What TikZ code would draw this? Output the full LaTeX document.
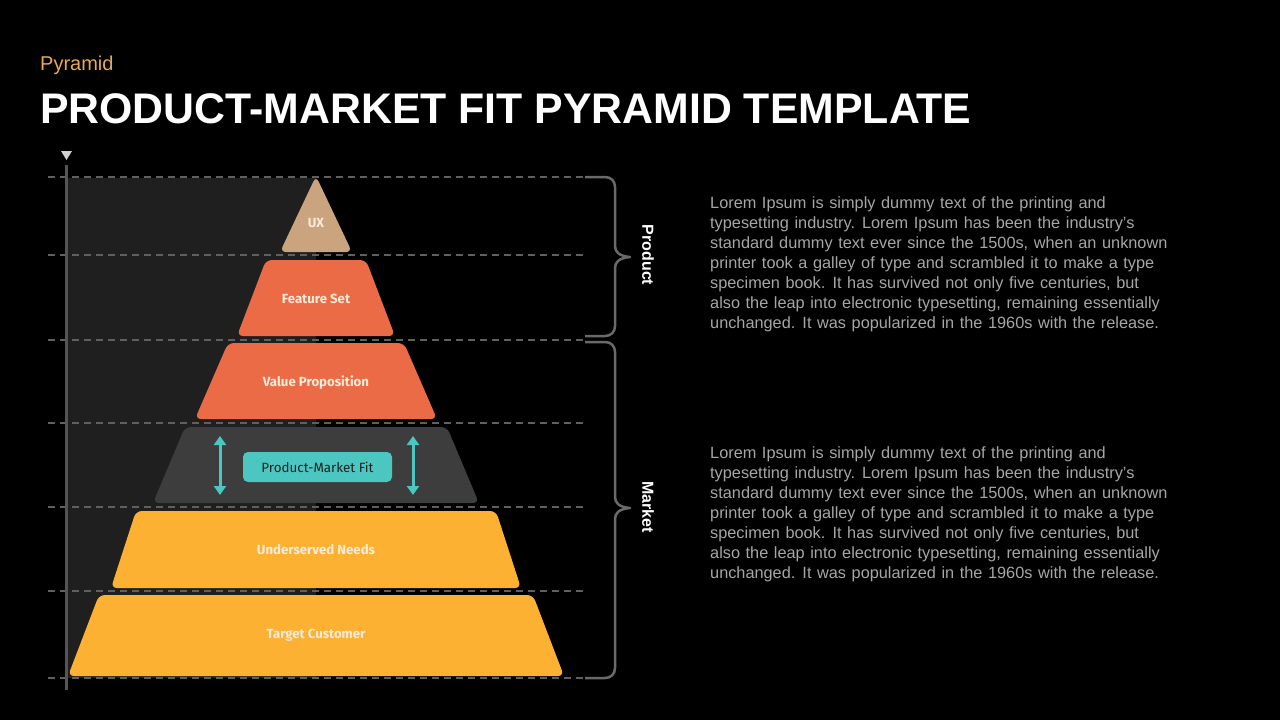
\documentclass[tikz,border=0pt]{standalone}
\usepackage{fontspec}
\setmainfont{Liberation Sans}
\newfontfamily\labfont{Fira Sans}
\usetikzlibrary{arrows.meta}
\newcommand\bodyfmt{\fontsize{16.3}{20}\selectfont\spaceskip 5.6pt plus 1pt\relax}
\definecolor{panel}{HTML}{1F1F1F}
\definecolor{guide}{HTML}{606060}
\definecolor{bracecol}{HTML}{6A6A6A}
\definecolor{tanc}{HTML}{C9A47E}
\definecolor{coral}{HTML}{EC6B47}
\definecolor{slate}{HTML}{3D3D3D}
\definecolor{amber}{HTML}{FDB133}
\definecolor{tealc}{HTML}{4CC6C0}
\definecolor{cream}{HTML}{FBEBD9}
\definecolor{bodytext}{HTML}{A6A6A6}
\definecolor{kicker}{HTML}{E8A857}
\definecolor{axiscol}{HTML}{555555}
\definecolor{marker}{HTML}{D0D0D0}
\begin{document}
\begin{tikzpicture}[x=1pt,y=-1pt,
  guideline/.style={guide, line width=2.5pt, dash pattern=on 7pt off 5pt},
  layerbox/.style={rounded corners=6pt},
  layerlabel/.style={font=\labfont\bfseries\fontsize{13.2}{15}\selectfont, text=cream, inner sep=0pt},
  bracestyle/.style={bracecol, line width=2.5pt, line join=round},
  sidelabel/.style={font=\bfseries\fontsize{16}{18}\selectfont, text=white, rotate=-90, inner sep=0pt},
  bodyline/.style={anchor=base west, inner sep=0pt, font=\bodyfmt, text=bodytext},
  pmfarrow/.style={tealc, line width=3pt, {Triangle[width=12pt,length=9pt]}-{Triangle[width=12pt,length=9pt]}}]
\fill[black] (0,0) rectangle (1280,720);
\useasboundingbox (0,0) rectangle (1280,720);

% panel
\fill[panel] (66,178) rectangle (316,678);

% guides
\foreach \yy in {177,255,340,423,507,591,678}
  \draw[guideline] (48,\yy) -- (585,\yy);

% axis
\draw[axiscol, line width=2.5pt] (66.5,165) -- (66.5,690);
\fill[marker] (61,151) -- (72,151) -- (66.5,160) -- cycle;

% pyramid layers
\fill[tanc, layerbox] (316,176) -- (352,252) -- (280,252) -- cycle;
\fill[coral, layerbox] (266,260) -- (366,260) -- (395,336) -- (237,336) -- cycle;
\fill[coral, layerbox] (228,343) -- (404,343) -- (437,419) -- (195,419) -- cycle;
\fill[slate, layerbox] (185,427) -- (447,427) -- (479,503) -- (153,503) -- cycle;
\fill[amber, layerbox] (136,511) -- (496,511) -- (521,588) -- (111,588) -- cycle;
\fill[amber, layerbox] (99,595) -- (533,595) -- (564,676) -- (68,676) -- cycle;

% labels
\node[layerlabel] (ux) at (316,223.5) {UX};
\node[layerlabel] (fs) at (316,298.5) {Feature Set};
\node[layerlabel] (vp) at (316,382.5) {Value Proposition};
\node[layerlabel] (un) at (316,549.5) {Underserved Needs};
\node[layerlabel] (tc) at (316,635.5) {Target Customer};

% PMF box and arrows
\node[fill=tealc, rounded corners=5pt, minimum width=149pt, minimum height=30pt, inner sep=0pt,
      font=\labfont\fontsize{13.4}{15}\selectfont, text=black!88] (pmf) at (317.5,467) {Product-Market Fit};
\coordinate (a1t) at (220,436);
\coordinate (a1b) at (220,495);
\coordinate (a2t) at (413,436);
\coordinate (a2b) at (413,495);
\draw[pmfarrow] (a1t) -- (a1b);
\draw[pmfarrow] (a2t) -- (a2b);

% braces
\draw[bracestyle] (585,177) -- (605,177)
  .. controls (611,177) and (615,181) .. (615,187) -- (615,246)
  .. controls (615,252) and (619,256) .. (630,257)
  .. controls (619,258) and (615,262) .. (615,268) -- (615,326)
  .. controls (615,332) and (611,336) .. (605,336) -- (585,336);
\draw[bracestyle] (585,342) -- (605,342)
  .. controls (611,342) and (615,346) .. (615,352) -- (615,497)
  .. controls (615,503) and (619,507) .. (630,508)
  .. controls (619,509) and (615,513) .. (615,519) -- (615,668)
  .. controls (615,674) and (611,678) .. (605,678) -- (585,678);
\node[sidelabel] (prod) at (648,255) {Product};
\node[sidelabel] (mark) at (648,507) {Market};

% titles
\node[anchor=base west, inner sep=0pt, font=\fontsize{20}{24}\selectfont, text=kicker] (kick) at (40,70) {Pyramid};
\node[anchor=base west, inner sep=0pt, font=\bfseries\fontsize{42.8}{50}\selectfont, text=white] (title) at (40,123) {PRODUCT-MARKET FIT PYRAMID TEMPLATE};

% body text
\foreach \t [count=\i] in {
  {Lorem Ipsum is simply dummy text of the printing and},
  {typesetting industry. Lorem Ipsum has been the industry's},
  {standard dummy text ever since the 1500s, when an unknown},
  {printer took a galley of type and scrambled it to make a type},
  {specimen book. It has survived not only five centuries, but},
  {also the leap into electronic typesetting, remaining essentially},
  {unchanged. It was popularized in the 1960s with the release.}}
{
  \node[bodyline] (pa\i) at (710,{188+20*\i}) {\t};
  \node[bodyline] (pb\i) at (710,{438+20*\i}) {\t};
}
\end{tikzpicture}
\end{document}
